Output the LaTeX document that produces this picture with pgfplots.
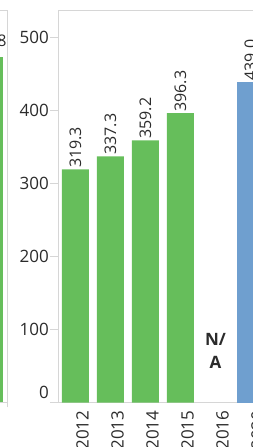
\documentclass[border=0pt]{standalone}
\usepackage{fontspec}
\setmainfont{Open Sans}
\usepackage{pgfplots}
\pgfplotsset{compat=1.18}
\definecolor{barGreen}{HTML}{66BE5B}
\definecolor{barBlue}{HTML}{6F9FCF}
\definecolor{lineGray}{HTML}{D6D6D6}
\definecolor{txt}{HTML}{2B2B2B}
\begin{document}
\begin{tikzpicture}[x=1pt,y=1pt]
\useasboundingbox (0,0) rectangle (253,447);
\clip (0,0) rectangle (253,447);
% left (previous) pane, mostly cut off
\begin{axis}[
  at={(7.5pt,44.5pt)}, anchor=south east,
  scale only axis, width=105pt, height=392.5pt,
  xmin=-2.5, xmax=0.5, ymin=0, ymax=537.7,
  axis line style={lineGray, line width=0.8pt},
  ytick=\empty, xtick={0.5}, xticklabels={},
  xtick pos=bottom, tick align=outside, major tick length=5pt,
  x tick style={lineGray, line width=0.8pt},
]
\addplot[ybar, bar width=27pt, bar shift=0pt, fill=barGreen, draw=none,
  point meta=y,
  nodes near coords={\pgfmathprintnumber[fixed,fixed zerofill,precision=1,assume math mode=true]{\pgfplotspointmeta}},
  every node near coord/.append style={anchor=south, font=\fontsize{16}{16}\selectfont, text=txt, yshift=7pt, xshift=-4pt}]
  coordinates {(0,472.8)};
\end{axis}
% main pane
\begin{axis}[
  at={(58pt,44.5pt)}, anchor=south west,
  scale only axis, width=210pt, height=392.5pt,
  xmin=-0.5, xmax=5.5, ymin=0, ymax=537.7,
  axis line style={lineGray, line width=0.8pt},
  xtick={0,1,2,3,4,5},
  xticklabels={2012,2013,2014,2015,2016,2020},
  xtick pos=bottom, ytick pos=left,
  tick align=outside,
  major tick length=8pt,
  major x tick style={draw=none},
  extra x ticks={-0.5,0.5,1.5,2.5,3.5,4.5,5.5},
  extra x tick labels={},
  extra x tick style={major tick length=5pt, tick style={lineGray, line width=0.8pt, draw=lineGray}},
  xticklabel style={rotate=90, anchor=east, inner sep=0pt, yshift=-7pt, font=\fontsize{17}{17}\selectfont, text=txt},
  ytick={100,200,300,400,500},
  extra y ticks={0},
  extra y tick style={yticklabel style={yshift=10pt}},
  y tick style={lineGray, line width=0.8pt},
  yticklabel style={font=\fontsize{17}{17}\selectfont, text=txt, inner sep=1pt},
  /pgf/number format/assume math mode=true,
  every node near coord/.append style={rotate=90, anchor=west, inner sep=1.5pt, font=\fontsize{16}{16}\selectfont, text=txt},
]
\addplot[ybar, bar width=27pt, bar shift=0pt, fill=barGreen, draw=none,
  point meta=y,
  nodes near coords={\pgfmathprintnumber[fixed,fixed zerofill,precision=1,assume math mode=true]{\pgfplotspointmeta}}]
  coordinates {(0,319.3) (1,337.3) (2,359.2) (3,396.3)};
\addplot[ybar, bar width=27pt, bar shift=0pt, fill=barBlue, draw=none,
  point meta=y,
  nodes near coords={\pgfmathprintnumber[fixed,fixed zerofill,precision=1,assume math mode=true]{\pgfplotspointmeta}}]
  coordinates {(5,439.0)};
\node[font=\bfseries\fontsize{17}{23}\selectfont, align=center, text=txt] at (axis cs:4,70) {N/\\A};
\end{axis}
\end{tikzpicture}
\end{document}
